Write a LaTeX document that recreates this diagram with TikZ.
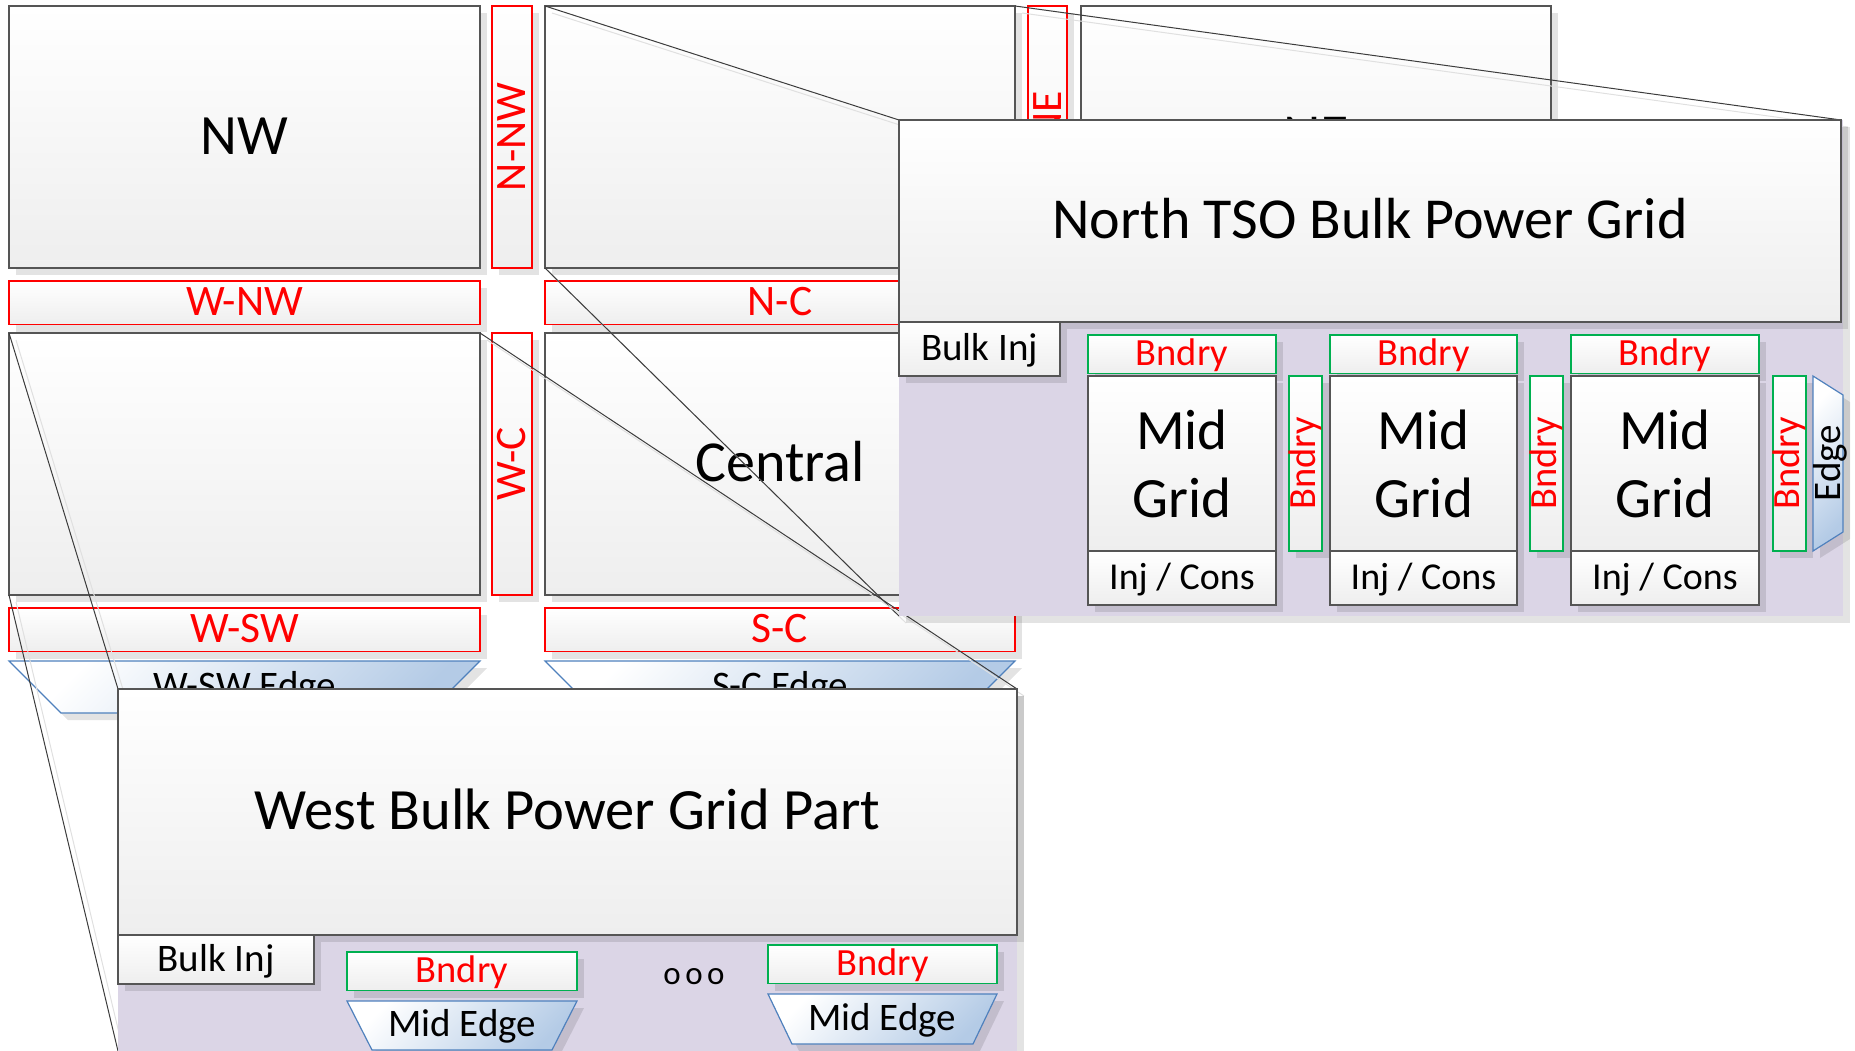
\documentclass[tikz,border=0pt]{standalone}
\usepackage{fontspec}
\setmainfont{Carlito}
\usepackage{graphicx}
\usetikzlibrary{shadows}
\definecolor{boxline}{RGB}{85,85,85}
\definecolor{boxbot}{RGB}{238,238,238}
\definecolor{lav}{RGB}{219,213,230}
\definecolor{edgeblue}{RGB}{180,203,230}
\definecolor{edgeline}{RGB}{79,129,189}
\definecolor{bgreen}{RGB}{0,176,80}
\definecolor{conn}{RGB}{60,60,60}
\pgfdeclarelayer{background}
\pgfdeclarelayer{lines}
\pgfsetlayers{background,lines,main}
\tikzset{
  shad/.style={drop shadow={shadow xshift=7pt, shadow yshift=-7pt, fill=black, opacity=0.11}},
  base/.style={inner sep=0pt, outer sep=0pt, anchor=north west, shad},
  fs/.style={font=\fontsize{#1}{#1}\selectfont, text height={0.8*#1pt}, text depth={0.2*#1pt}},
  rfs/.style={font=\fontsize{#1}{#1}\selectfont},
  gbox/.style={base, draw=boxline, line width=1.5pt, top color=white, bottom color=boxbot},
  rbox/.style={base, draw=red, line width=1.2pt, top color=white, bottom color=boxbot, text=red},
  grbox/.style={base, draw=bgreen, line width=1.2pt, top color=white, bottom color=boxbot, text=red},
  lavbox/.style={base, fill=lav},
  edgeshape/.style={draw=edgeline, line width=1.2pt, top color=white, bottom color=edgeblue, shading angle=45, shad},
  lbl/.style={inner sep=0pt, outer sep=0pt},
  conn/.style={draw=conn, line width=1pt},
  connshadow/.style={draw=black!12, line width=1pt},
  midgrid/.style={gbox, align=center, font=\fontsize{57}{68}\selectfont},
}
\newcommand\bx[7]{\node[#2, minimum width={(#5-#3)*1pt}, minimum height={(#6-#4)*1pt}] (#1) at (#3,#4) {#7};}
\begin{document}
\begin{tikzpicture}[x=1pt, y=-1pt]
\useasboundingbox (0,0) rectangle (1855,1051);
\begin{pgfonlayer}{background}
\bx{NW}{gbox,fs=57}{9}{6}{480}{268}{NW}
\bx{NNW}{rbox,rfs=43.5}{492}{6}{532}{268}{\rotatebox{90}{N-NW}}
\bx{N}{gbox}{545}{6}{1015}{268}{}
\bx{NNE}{rbox,rfs=43.5}{1028}{6}{1067}{268}{\rotatebox{90}{N-NE}}
\bx{NE}{gbox,fs=58}{1081}{6}{1551}{268}{NE}
\bx{WNW}{rbox,fs=43.5}{9}{281}{480}{320}{W-NW}
\bx{NC}{rbox,fs=43.5}{545}{281}{1015}{320}{N-C}
\bx{W}{gbox}{9}{333}{480}{595}{}
\bx{WC}{rbox,rfs=43.5}{492}{333}{532}{595}{\rotatebox{90}{W-C}}
\bx{C}{gbox,fs=58}{545}{333}{1015}{595}{Central}
\bx{WSW}{rbox,fs=43.5}{9}{608}{480}{647}{W-SW}
\bx{SC}{rbox,fs=43.5}{545}{608}{1015}{647}{S-C}
\path[edgeshape] (9,661) -- (480,661) -- (428,713) -- (61,713) -- cycle;
\node[lbl,fs=39] (WSWE) at (245,687) {W-SW Edge};
\path[edgeshape] (545,661) -- (1015,661) -- (963,713) -- (597,713) -- cycle;
\node[lbl,fs=39] (SCE) at (780,687) {S-C Edge};
\end{pgfonlayer}
% North TSO group
\bx{NTbg}{lavbox}{899}{120}{1843}{616}{}
\bx{NT}{gbox,fs=58}{899}{120}{1841}{322}{North TSO Bulk Power Grid}
\bx{NBI}{gbox,fs=39}{899}{322}{1060}{376}{Bulk Inj}
\bx{NB1}{grbox,fs=38.5}{1088}{335}{1276}{363}{Bndry}
\bx{NB2}{grbox,fs=38.5}{1330}{335}{1517}{363}{Bndry}
\bx{NB3}{grbox,fs=38.5}{1571}{335}{1759}{363}{Bndry}
\bx{MG1}{midgrid}{1088}{376}{1276}{551}{Mid\\Grid}
\bx{MG2}{midgrid}{1330}{376}{1517}{551}{Mid\\Grid}
\bx{MG3}{midgrid}{1571}{376}{1759}{551}{Mid\\Grid}
\bx{IC1}{gbox,fs=38}{1088}{551}{1276}{605}{Inj / Cons}
\bx{IC2}{gbox,fs=38}{1330}{551}{1517}{605}{Inj / Cons}
\bx{IC3}{gbox,fs=38}{1571}{551}{1759}{605}{Inj / Cons}
\bx{VB1}{grbox,rfs=38.5}{1289}{376}{1317}{551}{\rotatebox{90}{Bndry}}
\bx{VB2}{grbox,rfs=38.5}{1530}{376}{1558}{551}{\rotatebox{90}{Bndry}}
\bx{VB3}{grbox,rfs=38.5}{1773}{376}{1800}{551}{\rotatebox{90}{Bndry}}
\path[edgeshape] (1813,376) -- (1843,395) -- (1843,532) -- (1813,551) -- cycle;
\node[lbl,rfs=39] (NEdge) at (1830,463) {\rotatebox{90}{Edge}};
% West group
\bx{Wbg}{lavbox}{118}{689}{1017}{1051}{}
\bx{WT}{gbox,fs=58.5}{118}{689}{1017}{935}{West Bulk Power Grid Part}
\bx{WBI}{gbox,fs=39}{118}{935}{314}{984}{Bulk Inj}
\bx{WB1}{grbox,fs=38.5}{347}{952}{577}{984}{Bndry}
\path[edgeshape] (347,1001) -- (577,1001) -- (552,1050) -- (372,1050) -- cycle;
\node[lbl,fs=39] (ME1) at (462,1025) {Mid Edge};
\node[lbl,fs=33] (dots) at (694,975) {o\kern4.5pt o\kern4.5pt o};
\bx{WB2}{grbox,fs=38.5}{768}{945}{997}{978}{Bndry}
\path[edgeshape] (768,994) -- (997,994) -- (973,1044) -- (792,1044) -- cycle;
\node[lbl,fs=39] (ME2) at (882,1019) {Mid Edge};
% connectors
\begin{pgfonlayer}{lines}
\foreach \a/\b in {N.north west/NT.north west, N.north east/NT.north east, N.south west/NTbg.south west, W.north west/WT.north west, W.north east/WT.north east, W.south west/Wbg.south west}{
  \draw[connshadow] ([shift={(7,7)}]\a) -- ([shift={(7,7)}]\b);
  \draw[conn] (\a) -- (\b);
}
\end{pgfonlayer}
\end{tikzpicture}
\end{document}
